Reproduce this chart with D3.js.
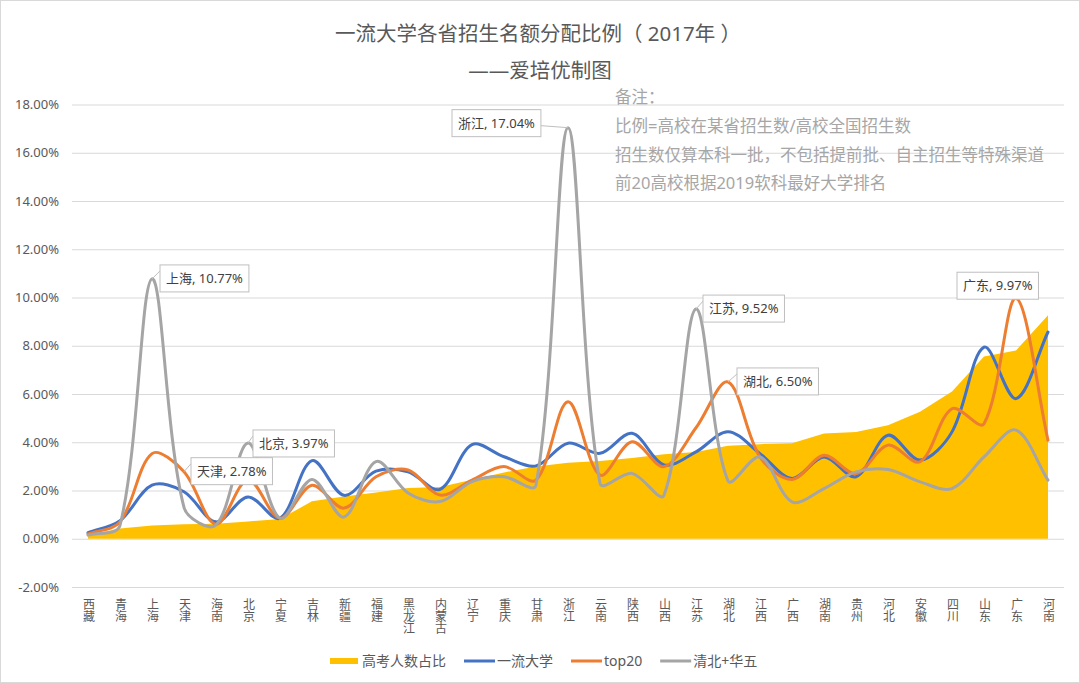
<!DOCTYPE html>
<html><head><meta charset="utf-8">
<script src="https://cdn.jsdelivr.net/npm/d3@7"></script>
<style>
body{margin:0;background:#fff;}
svg{display:block;}
text{font-family:'Noto Sans','Noto Sans CJK SC',sans-serif;}
</style>
</head><body>
<svg id="c" width="1080" height="683"></svg>
<script>
// ---------------- data ----------------
const categories = ['西藏','青海','上海','天津','海南','北京','宁夏','吉林','新疆','福建','黑龙江','内蒙古','辽宁','重庆','甘肃','浙江','云南','陕西','山西','江苏','湖北','江西','广西','湖南','贵州','河北','安徽','四川','山东','广东','河南'];
const gaokaoShare = [0.15,0.42,0.55,0.60,0.62,0.72,0.82,1.55,1.75,1.92,2.10,2.15,2.45,2.75,3.00,3.15,3.22,3.35,3.50,3.60,3.85,3.92,3.96,4.36,4.42,4.70,5.26,6.10,7.55,7.80,9.26];
const yiliu = [0.25,0.75,2.22,1.95,0.70,1.73,0.85,3.24,1.80,2.80,2.78,2.05,3.90,3.40,3.02,3.96,3.54,4.37,3.06,3.60,4.44,3.53,2.50,3.39,2.57,4.29,3.26,4.43,7.94,5.81,8.57];
const top20 = [0.20,0.70,3.53,2.78,0.60,2.45,0.85,2.22,1.27,2.57,2.85,1.81,2.43,2.99,2.43,5.68,2.64,4.02,2.99,4.60,6.50,3.39,2.46,3.46,2.70,3.88,3.19,5.39,4.77,9.97,4.08];
const qingbei = [0.15,0.55,10.77,1.30,0.57,3.97,0.85,2.46,0.90,3.20,1.90,1.54,2.37,2.57,2.23,17.04,2.30,2.71,1.81,9.52,2.40,3.39,1.53,2.08,2.77,2.87,2.36,2.08,3.39,4.50,2.43];
const yTicks = [-2,0,2,4,6,8,10,12,14,16,18];
const seriesNames = ['高考人数占比','一流大学','top20','清北+华五'];
const titleText = '一流大学各省招生名额分配比例（ 2017年 ）';
const subtitleText = '——爱培优制图';
const noteLines = ['备注：','比例=高校在某省招生数/高校全国招生数','招生数仅算本科一批，不包括提前批、自主招生等特殊渠道','前20高校根据2019软科最好大学排名'];
const calloutSeries = ['清北+华五','top20','清北+华五','清北+华五','清北+华五','top20','top20'];
const calloutCats = ['上海','天津','北京','浙江','江苏','湖北','广东'];

// ---------------- layout / style ----------------
const colors = {'高考人数占比':'#FFC000','一流大学':'#4472C4','top20':'#ED7D31','清北+华五':'#A5A5A5'};
const lineData = {'一流大学':yiliu,'top20':top20,'清北+华五':qingbei};
const calloutPos = {'上海':[8,-14],'天津':[7,-14],'北京':[5,-13],'浙江':[-116,-18],'江苏':[7,-14],'湖北':[9,-14],'广东':[-59,-26]};

// Excel-like smoothed curve (Bezier with distance-scaled tangents)
function ExcelCurve(context){ this._context = context; }
ExcelCurve.prototype = {
  areaStart(){}, areaEnd(){},
  lineStart(){ this._pts = []; },
  point(x,y){ this._pts.push([+x,+y]); },
  lineEnd(){
    const p = this._pts, c = this._context, n = p.length;
    if (!n) return;
    c.moveTo(p[0][0],p[0][1]);
    const dist = (a,b)=>Math.hypot(b[0]-a[0],b[1]-a[1]);
    for (let i=0;i<n-1;i++){
      const p0 = p[Math.max(0,i-1)], p1 = p[i], p2 = p[i+1], p3 = p[Math.min(n-1,i+2)];
      const d01 = dist(p0,p1), d12 = dist(p1,p2), d23 = dist(p2,p3);
      const f1 = (d01+d12)>0 ? (1/3)*d12/(d01+d12) : 0;
      const f2 = (d12+d23)>0 ? (1/3)*d12/(d12+d23) : 0;
      const c1 = [p1[0]+(p2[0]-p0[0])*f1, p1[1]+(p2[1]-p0[1])*f1];
      const c2 = [p2[0]-(p3[0]-p1[0])*f2, p2[1]-(p3[1]-p1[1])*f2];
      c.bezierCurveTo(c1[0],c1[1],c2[0],c2[1],p2[0],p2[1]);
    }
  }
};
const curveExcel = ctx => new ExcelCurve(ctx);

const svg = d3.select('#c');
svg.append('rect').attr('x',0.5).attr('y',0.5).attr('width',1079).attr('height',682)
  .attr('fill','#fff').attr('stroke','#d9d9d9');

const L = 72, R = 1064;
const x = d3.scalePoint().domain(categories).range([L,R]).padding(0.5);
const y = d3.scaleLinear().domain([-2,18]).range([587,104.5]);

// title
svg.append('text').attr('x',538).attr('y',41).attr('text-anchor','middle')
  .attr('font-size',20.5).attr('fill','#595959').text(titleText);
svg.append('text').attr('x',540).attr('y',78).attr('text-anchor','middle')
  .attr('font-size',20.5).attr('fill','#595959').text(subtitleText);

// y axis with gridlines
const yAxis = d3.axisLeft(y).tickValues(yTicks).tickFormat(d=>d.toFixed(2)+'%')
  .tickSize(-(R-L)).tickPadding(13);
const gy = svg.append('g').attr('transform',`translate(${L},0)`).call(yAxis);
gy.select('.domain').remove();
gy.selectAll('.tick line').attr('stroke','#d9d9d9').attr('stroke-width',1);
gy.selectAll('.tick text').attr('font-size',13).attr('fill','#595959')
  .style('font-family',"'Noto Sans','Noto Sans CJK SC',sans-serif");

// notes
const notes = svg.append('g');
noteLines.forEach((t,i)=>{
  notes.append('text').attr('x',615).attr('y',103+i*28.8).attr('font-size',16.5)
    .attr('fill','#a6a6a6').text(t);
});

// area
const area = d3.area().x((d,i)=>x(categories[i])).y0(y(0)).y1(d=>y(d)).curve(d3.curveLinear);
svg.append('path').datum(gaokaoShare).attr('d',area).attr('fill',colors['高考人数占比']);

// lines
const line = d3.line().x((d,i)=>x(categories[i])).y(d=>y(d)).curve(curveExcel);
['一流大学','top20','清北+华五'].forEach(n=>{
  svg.append('path').datum(lineData[n]).attr('d',line).attr('fill','none')
    .attr('stroke',colors[n]).attr('stroke-width',3).attr('stroke-linejoin','round').attr('stroke-linecap','round');
});

// x labels (vertical text)
const gx = svg.append('g');
categories.forEach(c=>{
  gx.append('text').attr('x',x(c)).attr('y',598).attr('font-size',12).attr('fill','#595959')
    .style('writing-mode','vertical-rl').style('text-orientation','upright')
    .attr('dominant-baseline','central')
    .text(c);
});

// callouts
calloutCats.forEach((c,i)=>{
  const s = calloutSeries[i];
  const idx = categories.indexOf(c);
  const v = lineData[s][idx];
  const px = x(c), py = y(v);
  const [dx,dy] = calloutPos[c];
  const g = svg.append('g');
  const txt = g.append('text').attr('font-size',13).attr('fill','#404040')
    .text(`${c}, ${v.toFixed(2)}%`);
  const w = txt.node().getComputedTextLength()+12, h = 27;
  const bx = px+dx, by = py+dy;
  let lx, ly;
  if (dx>0){ lx = bx; ly = by+6; }
  else if (dy<-20){ lx = px; ly = by+h; }
  else { lx = bx+w; ly = py-2; }
  g.insert('line','text').attr('x1',px).attr('y1',py).attr('x2',lx).attr('y2',ly)
    .attr('stroke','#bfbfbf').attr('stroke-width',1);
  g.insert('rect','text').attr('x',bx).attr('y',by).attr('width',w).attr('height',h)
    .attr('fill','#fff').attr('stroke','#bfbfbf').attr('stroke-width',1);
  txt.attr('x',bx+6).attr('y',by+18);
});

// legend
const lg = svg.append('g');
let cx = 330;
const ly0 = 661;
seriesNames.forEach((n,i)=>{
  if (i===0){
    lg.append('rect').attr('x',cx).attr('y',ly0-3).attr('width',28).attr('height',6).attr('fill',colors[n]);
    cx += 32;
  } else {
    lg.append('line').attr('x1',cx).attr('x2',cx+31).attr('y1',ly0).attr('y2',ly0)
      .attr('stroke',colors[n]).attr('stroke-width',3);
    cx += 33;
  }
  const t = lg.append('text').attr('x',cx).attr('y',ly0+5).attr('font-size',14).attr('fill','#595959').text(n);
  cx += t.node().getComputedTextLength() + 18;
});
</script>
</body></html>
